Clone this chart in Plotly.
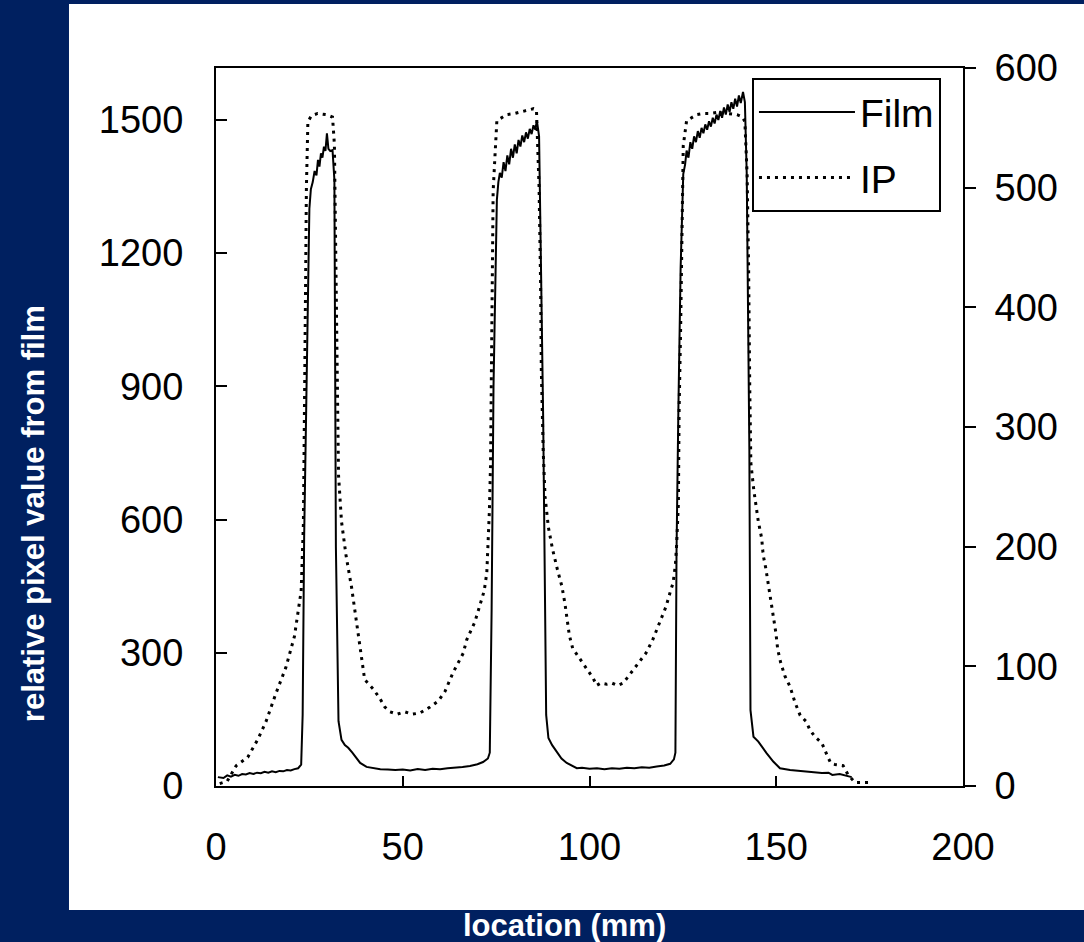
import plotly.graph_objects as go

# Film profile (left axis, relative pixel value)
film_x = [0.5, 2, 3, 4, 5, 6, 7, 8, 9, 10, 11, 12, 13, 14, 15, 16, 17, 18, 19, 20, 21, 22, 22.8,
          23.2, 23.6, 24.1, 24.6, 25.0, 25.4, 25.9, 26.4, 26.9, 27.3, 27.7, 28.1, 28.5, 28.9, 29.3,
          29.7, 30.1, 30.6, 31.2, 31.7, 32.1, 32.8, 33.2, 33.6, 34.5, 35.4, 36.5, 37.5, 38.6, 40.3,
          42, 44, 46, 48, 50, 52, 54, 56, 58, 60, 62, 64, 66, 68, 70, 71.5, 72.8, 73.3, 73.8, 74.3,
          74.8, 75.2, 75.6, 76, 76.5, 77, 77.5, 78, 78.5, 79, 79.5, 80, 80.5, 81, 81.5, 82, 82.5,
          83, 83.5, 84, 84.5, 85, 85.5, 85.9, 86.5, 86.7, 87.6, 88.4, 89, 90, 91.2, 92.5, 93.9,
          95.5, 96.6, 98, 100, 102, 104, 106, 108, 110, 112, 114, 116, 118, 120, 121.6, 122.6, 123,
          123.3, 123.8, 124.4, 125.1, 125.6, 126, 126.5, 127, 127.5, 128, 128.5, 129, 129.5, 130,
          130.5, 131, 131.5, 132, 132.5, 133, 133.5, 134, 134.5, 135, 135.5, 136, 136.5, 137, 137.5,
          138, 138.5, 139, 139.5, 140, 140.5, 141.1, 141.6, 142.1, 142.8, 143.1, 143.9, 145.2,
          146.3, 147.4, 149.2, 151, 153.7, 156, 158, 160, 162.2, 164, 165, 167, 168.5, 170.2]
film_y = [20, 18, 24, 21, 25, 23, 27, 26, 29, 27, 30, 29, 32, 30, 33, 31, 34, 33, 36, 35, 38, 40, 48,
          160, 560, 840, 1123, 1300, 1344, 1360, 1385, 1375, 1410, 1395, 1425, 1415, 1440, 1430,
          1470, 1435, 1430, 1432, 1365, 539, 146, 125, 104, 92, 86, 75, 65, 52, 43,
          40, 38, 37, 36, 37, 35, 38, 36, 39, 38, 40, 41, 43, 45, 49, 54, 62, 75, 400, 900,
          1200, 1320, 1360, 1381, 1370, 1405, 1385, 1420, 1400, 1435, 1415, 1445, 1425, 1455, 1440, 1465, 1450,
          1472, 1458, 1480, 1468, 1488, 1478, 1499, 1463, 1340, 827, 160, 108, 92, 77, 62, 52,
          44, 40, 41, 39, 40, 38, 40, 39, 41, 40, 42, 41, 44, 46, 50, 60, 75,
          530, 849, 1167, 1378, 1400, 1431, 1415, 1450, 1435, 1463, 1450, 1475, 1460, 1482,
          1470, 1490, 1478, 1497, 1485, 1505, 1492, 1512, 1500, 1520, 1505, 1528, 1512, 1535, 1518,
          1540, 1525, 1548, 1530, 1555, 1538, 1563, 1540, 1378, 757, 171, 111, 100,
          86, 74, 55, 40, 36, 34, 33, 32, 29, 30, 25, 27, 23, 20]

# Imaging plate profile (right axis)
ip_x = [1, 3, 5.4, 8.5, 11.2, 13.4, 16, 18.7, 21, 22.8, 23.4, 23.7, 24.0, 24.2, 24.6, 25.5, 27.2,
        29.5, 31.2, 31.7, 32.1, 32.5, 32.8, 33.6, 34.8, 36.3, 37.5, 38.7, 39.8, 42.1, 43.9, 45.2,
        46.6, 48.5, 50.5, 52.5, 54.6, 57.3, 59.5, 61.3, 63.5, 66.2, 67.1, 69.3, 70.9, 71.8, 72.5,
        72.9, 73.2, 73.5, 73.8, 74.2, 74.7, 75.2, 77.8, 80, 82.5, 85, 85.8, 86.5, 86.9, 87.1, 87.6,
        88.1, 89, 90.1, 91.4, 92.6, 93.4, 93.9, 94.6, 95.5, 96.4, 98.2, 99.7, 101, 101.9, 103,
        104.6, 106, 107.5, 109, 110, 111.7, 113.5, 115.1, 116.9, 118.2, 119.3, 120.5, 121.6, 122.4,
        123.0, 123.3, 123.8, 124.0, 124.4, 124.7, 124.9, 125.1, 126, 128.7, 130.5, 132.3, 134.5,
        137, 139.5, 141, 141.6, 142.2, 142.6, 142.9, 143.2, 144, 145.2, 146.1, 146.5, 147.2, 147.9,
        148.5, 149.2, 149.9, 150.4, 151.2, 152.3, 153.7, 155, 156.4, 158, 159, 160.4, 162.2, 163.7,
        164.6, 165.7, 167.9, 169.3, 171.1, 174.6]
ip_y = [2, 4, 17, 24, 39, 54, 77, 99, 125, 163, 219, 297, 424, 499, 555, 560, 562,
        561, 559, 536, 424, 330, 260, 221, 193, 166, 141, 114, 89, 81, 73, 66,
        62, 60, 62, 60, 61, 66, 71, 79, 95, 111, 122, 137, 153, 163, 178,
        205, 230, 268, 383, 497, 527, 556, 561, 562, 564, 566, 565, 500, 421, 348, 280,
        242, 216, 198, 181, 167, 153, 140, 126, 115, 111, 103, 96, 90, 84, 86,
        85, 86, 84, 86, 90, 97, 105, 111, 122, 132, 140, 150, 162, 170,
        185, 200, 236, 315, 382, 472, 519, 535, 556, 561, 562, 562, 563,
        562, 561, 559, 555, 511, 433, 334, 270, 247, 221, 207, 193, 182, 168,
        155, 141, 128, 114, 103, 92, 83, 70, 59, 54, 47, 41, 36, 25,
        19, 18, 17, 9, 3, 3]

navy = '#002060'
font = 'Arial, Liberation Sans, sans-serif'

fig = go.Figure()
fig.add_trace(go.Scatter(x=film_x, y=film_y, mode='lines', name='Film',
                         line=dict(color='black', width=2), legendgroup='a'))
fig.add_trace(go.Scatter(x=ip_x, y=ip_y, mode='lines', name='IP', yaxis='y2',
                         line=dict(color='black', width=3, dash='3px,5px'), legendgroup='b'))

fig.update_layout(
    width=1084, height=942,
    margin=dict(l=216, r=121, t=68, b=156),
    paper_bgcolor=navy, plot_bgcolor='white',
    font=dict(family=font, size=38, color='black'),
    showlegend=True,
    legend=dict(x=0.7175, y=0.986, xanchor='left', yanchor='top',
                bgcolor='white', bordercolor='black', borderwidth=2,
                font=dict(size=39), itemwidth=96, tracegroupgap=12, traceorder='grouped',
                entrywidth=190),
    xaxis=dict(range=[0, 200], tickvals=[0, 50, 100, 150, 200], showgrid=False, zeroline=False,
               showline=True, linecolor='black', linewidth=2, mirror=True,
               ticks='inside', ticklen=10, tickwidth=2, tickcolor='black', ticklabelstandoff=26),
    yaxis=dict(range=[0, 1617], tickvals=[0, 300, 600, 900, 1200, 1500], showgrid=False,
               zeroline=False, showline=True, linecolor='black', linewidth=2,
               ticks='inside', ticklen=11, tickwidth=2, tickcolor='black', ticklabelstandoff=23),
    yaxis2=dict(range=[0, 600], tickvals=[0, 100, 200, 300, 400, 500, 600], overlaying='y',
                side='right', showgrid=False, zeroline=False, showline=True, linecolor='black',
                linewidth=2, ticks='outside', ticklen=11, tickwidth=2, tickcolor='black',
                ticklabelstandoff=11),
    shapes=[dict(type='rect', xref='paper', yref='paper', x0=-0.1968, x1=1.2, y0=-0.1727,
                 y1=1.0891, fillcolor='white', line=dict(width=0), layer='below')],
    annotations=[
        dict(text='location (mm)', xref='paper', yref='paper', x=0.467, y=-0.1936,
             showarrow=False, font=dict(size=31, color='white', family=font), xanchor='center',
             yanchor='middle'),
        dict(text='relative pixel value from film', xref='paper', yref='paper', x=-0.245,
             y=0.380, showarrow=False, textangle=-90,
             font=dict(size=31, color='white', family=font), xanchor='center', yanchor='middle'),
    ],
)
fig.update_annotations(font_weight='bold')

fig.write_html("out.html", config={'displayModeBar': False},
               post_script="document.body.style.margin='0';")
